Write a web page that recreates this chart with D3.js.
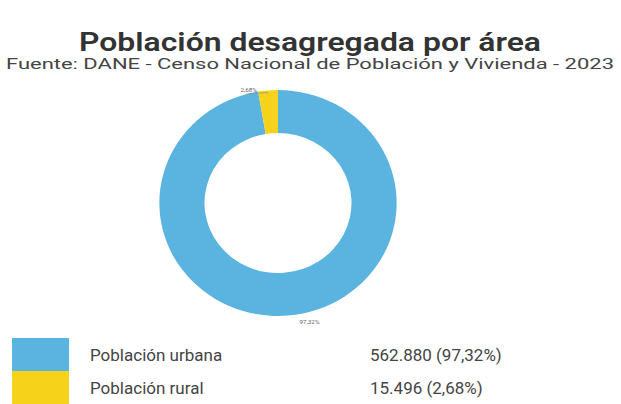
<!DOCTYPE html>
<html><head><meta charset="utf-8">
<script src="https://cdn.jsdelivr.net/npm/d3@7"></script>
<style>body{margin:0;background:#fff}svg{display:block}</style>
</head><body>
<svg id="c" width="621" height="404"></svg>
<script>
const categories = ["Población urbana", "Población rural"];
const values = [562880, 15496];
const percentLabels = ["97,32%", "2,68%"];
const valueLabels = ["562.880 (97,32%)", "15.496 (2,68%)"];
const colors = ["#5bb4e0", "#f6d21a"];
const title = "Población desagregada por área";
const subtitle = "Fuente: DANE - Censo Nacional de Población y Vivienda - 2023";

const svg = d3.select("#c");
const font = "Roboto, 'Liberation Sans', sans-serif";

svg.append("text").attr("x", 310).attr("y", 51).attr("text-anchor", "middle")
  .attr("font-family", font).attr("font-weight", 600).attr("font-size", 25)
  .attr("fill", "#333").attr("textLength", 462).attr("lengthAdjust", "spacingAndGlyphs").text(title);
svg.append("text").attr("x", 310).attr("y", 69).attr("text-anchor", "middle")
  .attr("font-family", font).attr("font-size", 15.5)
  .attr("fill", "#444").attr("textLength", 608).attr("lengthAdjust", "spacingAndGlyphs").text(subtitle);

const cx = 278, cy = 203, rOut = 113, rIn = 70;
const data = categories.map((c, i) => ({ cat: c, value: values[i], pct: percentLabels[i], color: colors[i] }));
const pie = d3.pie().value(d => d.value).sort(null);
const arc = d3.arc().innerRadius(rIn).outerRadius(rOut);
const g = svg.append("g").attr("transform", `translate(${cx},${cy}) scale(1.05,1)`);
const arcs = pie(data);
g.selectAll("path").data(arcs).join("path").attr("d", arc).attr("fill", d => d.data.color);

// tiny outside labels
arcs.forEach(a => {
  const outer = d3.arc().innerRadius(rOut + 6).outerRadius(rOut + 6).centroid(a);
  let lx = outer[0], ly = outer[1];
  if (a.index === 1) { lx -= 18; ly = -rOut + 2; }
  else { lx += 20; ly += 2; }
  g.append("text").attr("x", lx).attr("y", ly).attr("text-anchor", "middle")
    .attr("font-family", font).attr("font-size", 6).attr("fill", "#666").text(a.data.pct);
});
// leader line for small slice
const a1 = arcs[1];
const m1 = (a1.startAngle + a1.endAngle) / 2;
g.append("line")
  .attr("x1", Math.sin(m1) * (rOut - 2)).attr("y1", -Math.cos(m1) * (rOut - 2))
  .attr("x2", -30).attr("y2", -rOut + 4)
  .attr("stroke-width", 0.6).attr("stroke", "#888");

// legend
const legY = d3.scaleBand().domain(categories).range([338, 404]).paddingInner(0);
const leg = svg.append("g");
leg.selectAll("rect").data(data).join("rect")
  .attr("x", 12).attr("y", d => legY(d.cat)).attr("width", 57).attr("height", legY.bandwidth())
  .attr("fill", d => d.color);
leg.selectAll("text.cat").data(data).join("text").attr("class", "cat")
  .attr("x", 90).attr("y", d => legY(d.cat) + legY.bandwidth() / 2 + 6)
  .attr("font-family", font).attr("font-size", 17).attr("fill", "#444").text(d => d.cat);
leg.selectAll("text.val").data(data).join("text").attr("class", "val")
  .attr("x", 370).attr("y", (d, i) => legY(d.cat) + legY.bandwidth() / 2 + 6)
  .attr("font-family", font).attr("font-size", 17).attr("fill", "#444").text((d, i) => valueLabels[i]);
</script>
</body></html>
